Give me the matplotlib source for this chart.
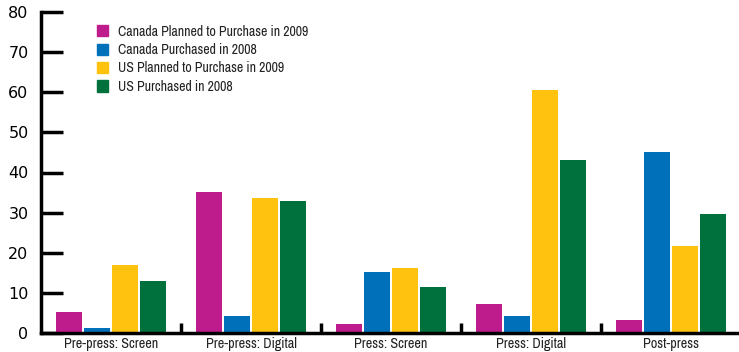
import numpy as np
import matplotlib
matplotlib.use('Agg')
import matplotlib.pyplot as plt
from matplotlib.patches import Patch

# Data
categories = ['Pre-press: Screen', 'Pre-press: Digital', 'Press: Screen', 'Press: Digital', 'Post-press']
series_names = ['Canada Planned to Purchase in 2009', 'Canada Purchased in 2008',
                'US Planned to Purchase in 2009', 'US Purchased in 2008']
canada_plan_2009 = [5.2, 35.2, 2.2, 7.2, 3.2]
canada_bought_2008 = [1.2, 4.2, 15.2, 4.2, 45.1]
us_plan_2009 = [17.0, 33.7, 16.2, 60.6, 21.7]
us_bought_2008 = [13.0, 32.9, 11.5, 43.1, 29.7]
colors = ['#BE1C8C', '#0070BA', '#FFC20E', '#00703C']

narrow = ['Archivo Narrow', 'DejaVu Sans']

fig = plt.figure(figsize=(7.39, 3.52), dpi=100)
ax = fig.add_axes([41 / 739, 19 / 352, 700 / 739, 321 / 352])

x = np.arange(len(categories))
all_series = [canada_plan_2009, canada_bought_2008, us_plan_2009, us_bought_2008]
offsets = [-0.3, -0.1, 0.1, 0.3]
for vals, off, col in zip(all_series, offsets, colors):
    ax.bar(x + off, vals, width=0.186, color=col, zorder=2)

ax.set_xlim(-0.5, 4.5)
ax.set_ylim(0, 80)

for s in ['top', 'right']:
    ax.spines[s].set_visible(False)
ax.spines['left'].set_linewidth(2.5)
ax.spines['bottom'].set_linewidth(2.5)

ax.set_yticks(np.arange(0, 81, 10))
ax.tick_params(axis='y', direction='in', length=16, width=2.5, pad=9, labelsize=11.5)

# group separators as major ticks, labels on minor ticks
ax.set_xticks([0.5, 1.5, 2.5, 3.5])
ax.set_xticklabels([])
ax.tick_params(axis='x', which='major', direction='in', length=7, width=2.5)
ax.set_xticks(x, minor=True)
ax.set_xticklabels(categories, minor=True, family=narrow, fontsize=10.2, color='#222222')
ax.tick_params(axis='x', which='minor', length=0, pad=3)

handles = [Patch(color=c) for c in colors]
leg = ax.legend(handles, series_names, loc='upper left', bbox_to_anchor=(0.062, 1.0),
                frameon=False, prop={'family': narrow, 'size': 10},
                handlelength=0.8, handleheight=0.85, handletextpad=0.75, labelspacing=0.32)
for t in leg.get_texts():
    t.set_color('#222222')

fig.savefig('out.png', dpi=100)
